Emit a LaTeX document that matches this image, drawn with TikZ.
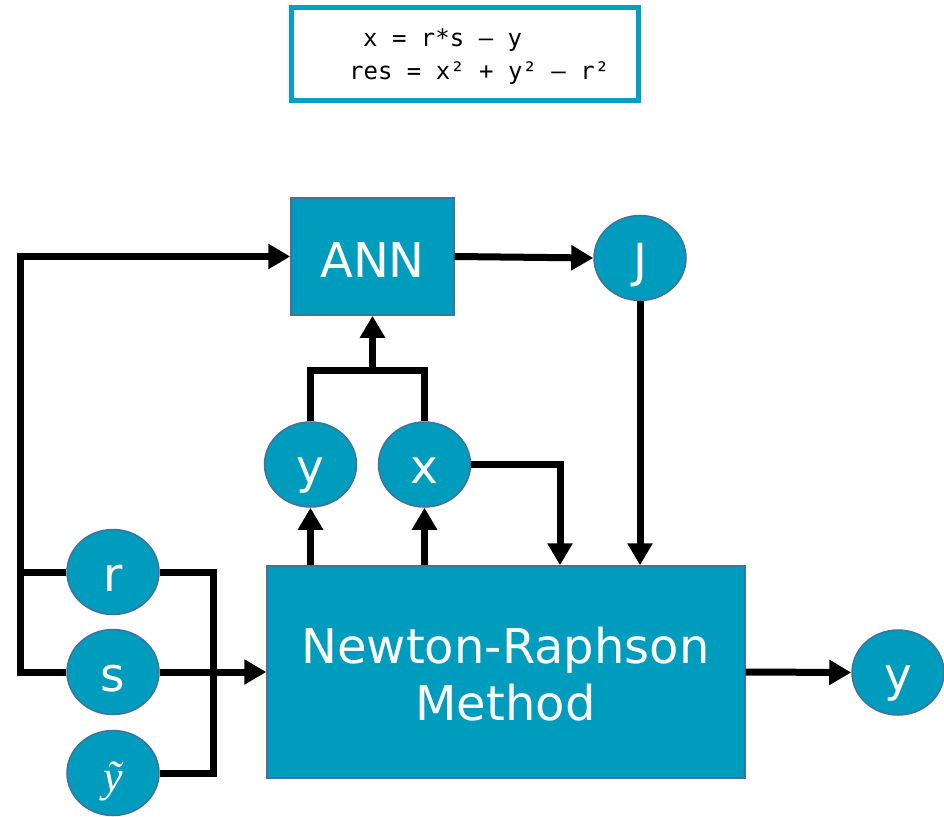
\documentclass[tikz,border=0pt]{standalone}
\usepackage{fontspec}
\setmainfont{DejaVu Sans}
\newfontfamily\codefont{DejaVu Sans Mono}
\newfontfamily\tildefont{Liberation Serif}
\usetikzlibrary{arrows.meta,shapes.geometric}
\definecolor{tealfill}{RGB}{0,156,189}
\definecolor{tealedge}{RGB}{65,113,156}
\definecolor{codeframe}{RGB}{0,160,196}
\tikzset{
  blk/.style={draw=tealedge, line width=1.5pt, fill=tealfill, inner sep=0pt},
  blktxt/.style={text=white, font=\fontsize{48}{57}\selectfont, inner sep=0pt, anchor=base},
  circ/.style={ellipse, draw=tealedge, line width=1.5pt, fill=tealfill, text=white,
    font=\fontsize{47}{56}\selectfont, inner sep=0pt,
    minimum width=92pt, minimum height=85pt, text height=38pt, text depth=0pt},
  wire/.style={line width=7pt, black},
  arr/.style={wire, -{Triangle[length=22pt,width=24pt]}},
  codetxt/.style={font=\codefont\fontsize{24}{28}\selectfont, anchor=base west, inner sep=0pt},
}
\begin{document}
\begin{tikzpicture}[x=1pt,y=-1pt]
\useasboundingbox (0,0) rectangle (944,816);
% code box
\node[draw=codeframe, line width=5pt, minimum width=347pt, minimum height=93pt, inner sep=0pt] (code) at (465,54) {};
\node[codetxt] (code1) at (363,47) {x = r*s – y};
\node[codetxt] (code2) at (349,79) {res = x² + y² – r²};
% blocks
\node[blk, minimum width=163pt, minimum height=117pt, text=white,
  font=\fontsize{48}{57}\selectfont, text height=41pt, text depth=0pt] (ann) at (372.5,256.5) {ANN};
\node[blk, minimum width=478pt, minimum height=212pt] (nr) at (506,672) {};
\node[blktxt] (nrt1) at (505.5,663) {Newton-Raphson};
\node[blktxt] (nrt2) at (505.5,720) {Method};
% circles
\node[circ] (j) at (640,258) {J};
\node[circ] (yu) at (310.5,464.5) {y};
\node[circ] (xn) at (424.5,464.5) {x};
\node[circ] (yo) at (898,672.5) {y};
\node[circ] (r) at (113,572) {r};
\node[circ] (s) at (113,672) {s};
\node[circ, font=\tildefont\itshape\fontsize{44}{52}\selectfont, text height=36pt] (yt) at (113,773) {ỹ};
% helper coordinates
\coordinate (lft) at (20,0);
\coordinate (mid) at (213,0);
\coordinate (xd) at (560,0);
\coordinate (jn) at (0,370);
% connectors
\draw[arr] (s.west) -| (lft |- ann.west) -- (ann.west);
\draw[wire] (r.west) -- (lft |- r.west);
\draw[wire] (r.east) -| (mid |- yt.east) -- (yt.east);
\draw[arr] (s.east) -- (nr.west);
\draw[arr] (ann.east) -- (j.west);
\draw[arr] (j.south) -- (j.south |- nr.north);
\draw[arr] (nr.north -| yu.south) -- (yu.south);
\draw[arr] (nr.north -| xn.south) -- (xn.south);
\draw[arr] (xn.east) -| (xd |- nr.north);
\draw[wire] (yu.north) |- (xn.north |- jn) -- (xn.north);
\draw[arr] (ann.south |- jn) -- (ann.south);
\draw[arr] (nr.east) -- (yo.west);
\end{tikzpicture}
\end{document}
